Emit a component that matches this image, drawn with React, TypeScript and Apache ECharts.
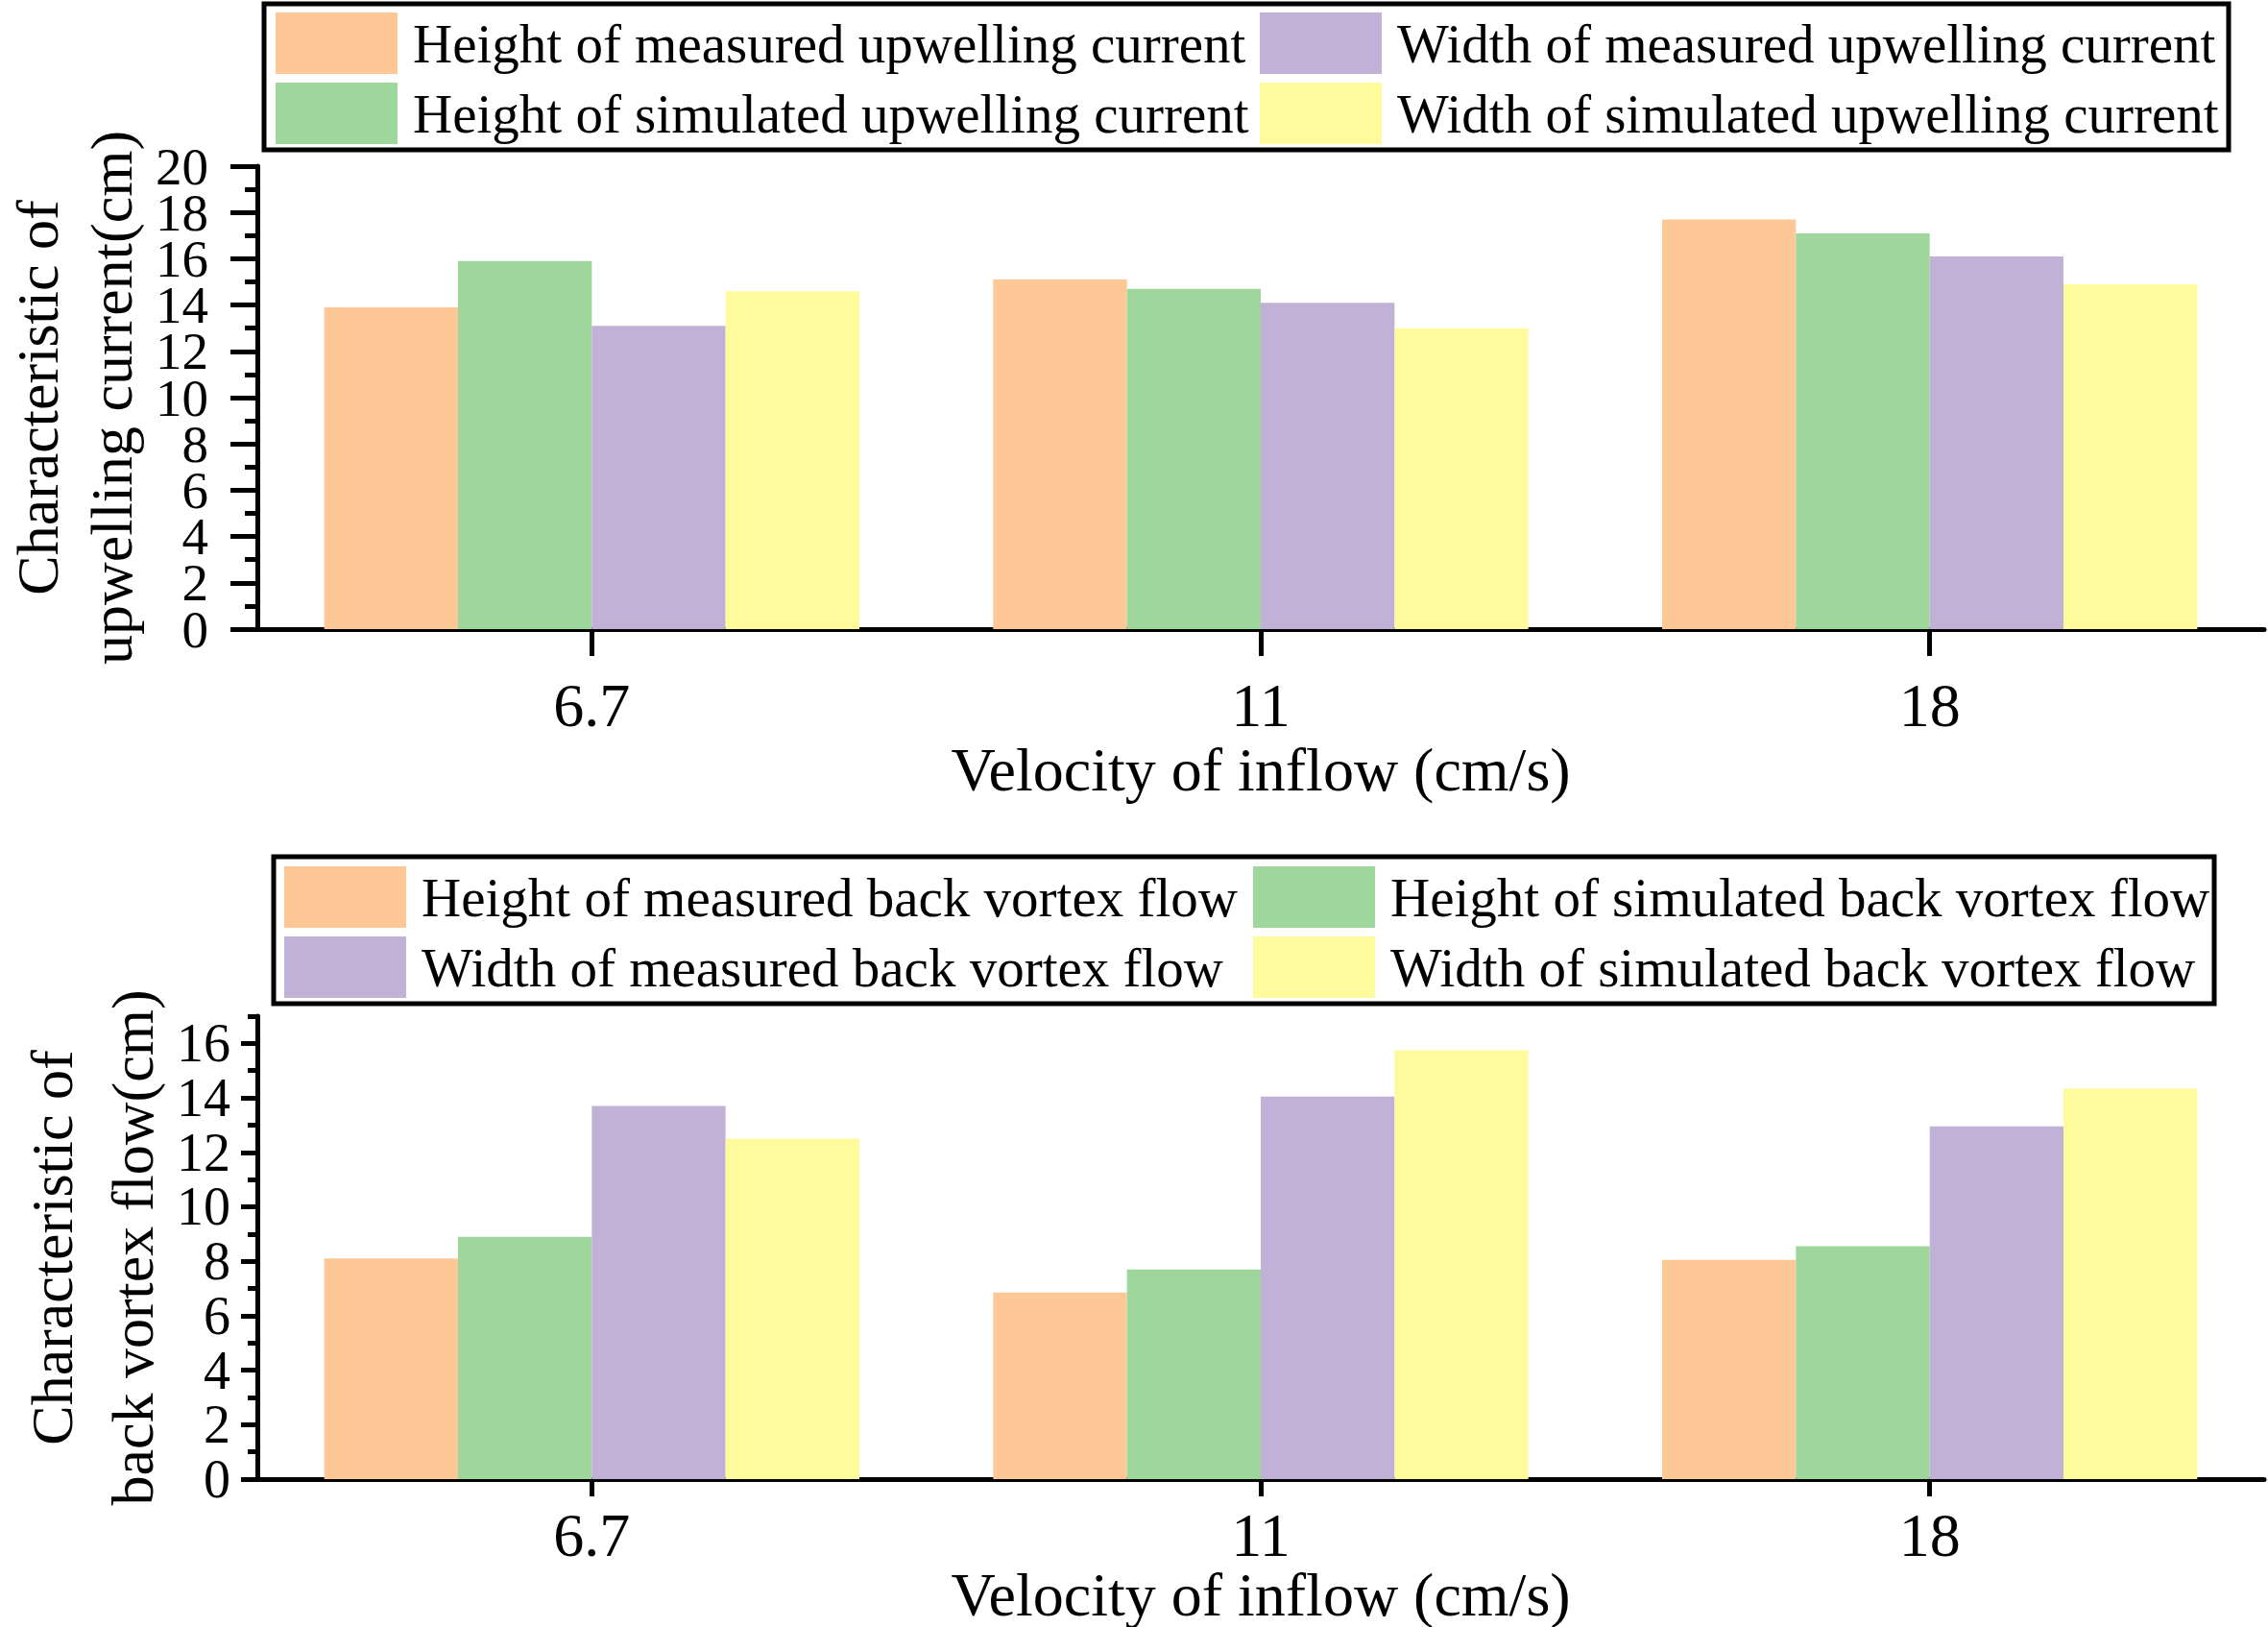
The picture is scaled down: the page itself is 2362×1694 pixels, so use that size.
import React, { useEffect, useRef } from "react";
import * as echarts from "echarts";

const velocities = ["6.7", "11", "18"];

const upHeightMeasured = [13.9, 15.1, 17.7];
const upHeightSimulated = [15.9, 14.7, 17.1];
const upWidthMeasured = [13.1, 14.1, 16.1];
const upWidthSimulated = [14.6, 13.0, 14.9];

const bvHeightMeasured = [8.1, 6.85, 8.05];
const bvHeightSimulated = [8.9, 7.7, 8.55];
const bvWidthMeasured = [13.7, 14.05, 12.95];
const bvWidthSimulated = [12.5, 15.75, 14.35];

const topMajorTicks = [0, 2, 4, 6, 8, 10, 12, 14, 16, 18, 20];
const topLabelsA = [0, 4, 8, 12, 16, 20];
const topLabelsB = [2, 6, 10, 14, 18];
const bottomMajorTicks = [0, 2, 4, 6, 8, 10, 12, 14, 16];

const upNames = [
  "Height of measured upwelling current",
  "Height of simulated upwelling current",
  "Width of measured upwelling current",
  "Width of simulated upwelling current",
];
const bvNames = [
  "Height of measured back vortex flow",
  "Height of simulated back vortex flow",
  "Width of measured back vortex flow",
  "Width of simulated back vortex flow",
];

const COLORS = ["#FDC896", "#9ED69C", "#C2B1D6", "#FEFB9C"];
const FONT = "Liberation Serif";

export default function App() {
  const ref = useRef<HTMLDivElement>(null);

  useEffect(() => {
    if (!ref.current) return;
    const chart = echarts.init(ref.current, null, { renderer: "svg" });

    const upData = [upHeightMeasured, upHeightSimulated, upWidthMeasured, upWidthSimulated];
    const bvData = [bvHeightMeasured, bvHeightSimulated, bvWidthMeasured, bvWidthSimulated];

    const barSeries = (names: string[], data: number[][], axisIdx: number) =>
      names.map((name, i) => ({
        name,
        type: "bar",
        xAxisIndex: axisIdx,
        yAxisIndex: axisIdx,
        data: data[i],
        barGap: "0%",
        barCategoryGap: "20%",
        itemStyle: { color: COLORS[i] },
      }));

    const legendBase = {
      orient: "vertical",
      padding: 0,
      itemWidth: 127,
      itemHeight: 64,
      itemGap: 9,
      icon: "rect",
      selectedMode: false,
      textStyle: {
        fontFamily: FONT,
        fontSize: 57,
        color: "#000",
        padding: [0, 0, 0, 11],
      },
    };

    const axisLine = { show: true, lineStyle: { color: "#000", width: 5 } };

    const xAxisBase = (gridIndex: number, tickLen: number, labelMargin: number, nameGap: number) => ({
      type: "category",
      gridIndex,
      data: velocities,
      axisLine,
      axisTick: { show: true, alignWithLabel: true, length: tickLen, lineStyle: { color: "#000", width: 5 } },
      axisLabel: { fontFamily: FONT, fontSize: 64, color: "#000", margin: labelMargin },
      name: "Velocity of inflow (cm/s)",
      nameLocation: "middle",
      nameGap,
      nameMoveOverlap: false,
      nameTextStyle: { fontFamily: FONT, fontSize: 64, color: "#000" },
      splitLine: { show: false },
    });

    const topLabel = (values: number[]) => ({
      fontFamily: FONT,
      fontSize: 55,
      color: "#000",
      margin: 51,
      customValues: values,
      showMinLabel: true,
      showMaxLabel: true,
      hideOverlap: false,
    });

    const option = {
      animation: false,
      backgroundColor: "#fff",
      grid: [
        { left: 268, top: 173, width: 2090, height: 482, outerBoundsMode: "none", containLabel: false },
        { left: 268, top: 1058, width: 2090, height: 482, outerBoundsMode: "none", containLabel: false },
      ],
      legend: [
        { ...legendBase, left: 287, top: 13, data: [upNames[0], upNames[1]] },
        { ...legendBase, left: 1312, top: 13, data: [upNames[2], upNames[3]] },
        { ...legendBase, left: 296, top: 902, data: [bvNames[0], bvNames[2]] },
        { ...legendBase, left: 1305, top: 902, data: [bvNames[1], bvNames[3]] },
      ],
      xAxis: [xAxisBase(0, 28, 47, 114), xAxisBase(1, 18, 26, 88)],
      yAxis: [
        {
          type: "value",
          gridIndex: 0,
          position: "left",
          min: 0,
          max: 20,
          interval: 2,
          axisLine,
          axisTick: { show: true, length: 28, lineStyle: { color: "#000", width: 5 }, customValues: topMajorTicks },
          minorTick: { show: true, splitNumber: 2, length: 13, lineStyle: { color: "#000", width: 5 } },
          axisLabel: topLabel(topLabelsA),
          splitLine: { show: false },
          name: "Characteristic of\nupwelling current(cm)",
          nameLocation: "middle",
          nameRotate: 90,
          nameGap: 114,
          nameMoveOverlap: false,
          nameTextStyle: { fontFamily: FONT, fontSize: 62, lineHeight: 77, color: "#000" },
        },
        {
          type: "value",
          gridIndex: 1,
          position: "left",
          min: 0,
          max: 17,
          interval: 2,
          axisLine,
          axisTick: { show: true, length: 17, lineStyle: { color: "#000", width: 5 }, customValues: bottomMajorTicks },
          axisLabel: {
            fontFamily: FONT,
            fontSize: 56,
            color: "#000",
            margin: 28,
            customValues: bottomMajorTicks,
            showMinLabel: true,
            hideOverlap: false,
            formatter: (v: number) => (v > 16 ? "" : String(v)),
          },
          splitLine: { show: false },
          name: "Characteristic of\nback vortex flow(cm)",
          nameLocation: "middle",
          nameRotate: 90,
          nameGap: 88,
          nameMoveOverlap: false,
          nameTextStyle: { fontFamily: FONT, fontSize: 62, lineHeight: 84, color: "#000" },
        },
        {
          type: "value",
          gridIndex: 1,
          position: "left",
          offset: 0,
          min: 0,
          max: 17,
          interval: 1,
          axisLine: { show: false },
          axisTick: { show: true, length: 10, lineStyle: { color: "#000", width: 5 } },
          axisLabel: { show: false },
          splitLine: { show: false },
        },
        {
          type: "value",
          gridIndex: 0,
          position: "left",
          offset: 0,
          min: 0,
          max: 20,
          interval: 2,
          axisLine: { show: false },
          axisTick: { show: false },
          axisLabel: topLabel(topLabelsB),
          splitLine: { show: false },
        },
      ],
      series: [...barSeries(upNames, upData, 0), ...barSeries(bvNames, bvData, 1)],
      graphic: [
        {
          type: "rect",
          shape: { x: 275, y: 4, width: 2046, height: 152 },
          style: { fill: "none", stroke: "#000", lineWidth: 5 },
          z: 100,
        },
        {
          type: "rect",
          shape: { x: 285, y: 892, width: 2021, height: 153 },
          style: { fill: "none", stroke: "#000", lineWidth: 5 },
          z: 100,
        },
      ],
    };

    chart.setOption(option as any);
    return () => chart.dispose();
  }, []);

  return (
    <div
      ref={ref}
      style={{ position: "absolute", left: 0, top: 0, width: 2362, height: 1694, background: "#fff" }}
    />
  );
}
